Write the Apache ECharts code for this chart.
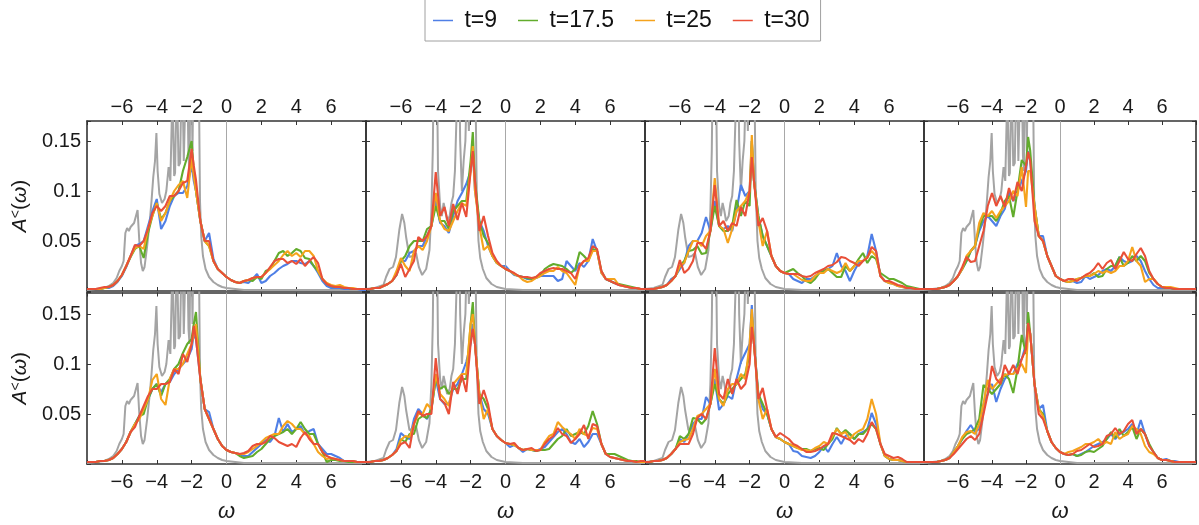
<!DOCTYPE html>
<html><head><meta charset="utf-8">
<script src="https://cdn.jsdelivr.net/npm/echarts/dist/echarts.min.js"></script>
<style>html,body{margin:0;padding:0;background:#fff}#c{width:1199px;height:525px}</style>
</head><body><div id="c"></div><script>
// ---------- data ----------
const seriesNames = ['t=9', 't=17.5', 't=25', 't=30'];
const xTickLabels = [-6, -4, -2, 0, 2, 4, 6];
const yTickLabels = [0.05, 0.1, 0.15];

const omega = [-8,-7.75,-7.5,-7.25,-7,-6.75,-6.5,-6.25,-6,-5.75,
  -5.5,-5.25,-5,-4.75,-4.5,-4.25,-4,-3.75,-3.5,-3.25,
  -3,-2.75,-2.5,-2.25,-2,-1.875,-1.75,-1.5,-1.25,-1,
  -0.75,-0.5,-0.25,0,0.25,0.5,0.75,1,1.25,1.5,
  1.75,2,2.25,2.5,2.75,3,3.25,3.5,3.75,4,
  4.25,4.5,4.75,5,5.25,5.5,5.75,6,6.25,6.5,
  6.75,7,7.25,7.5,7.75,8];

// reference (gray) spectra
const grayA_w = [-8,-7.5,-7,-6.75,-6.5,-6.3,-6.15,-6,-5.9,-5.8,-5.7,-5.6,-5.5,-5.4,-5.3,-5.2,-5.1,-5,-4.9,-4.8,-4.7,-4.55,-4.4,-4.3,-4.2,-4.1,-4.02,-3.95,-3.85,-3.7,-3.55,-3.45,-3.32,-3.22,-3.1,-3,-2.95,-2.85,-2.75,-2.66,-2.55,-2.45,-2.38,-2.28,-2.18,-2.12,-2.05,-1.95,-1.85,-1.75,-1.65,-1.58,-1.52,-1.45,-1.35,-1.2,-1,-0.75,-0.5,-0.25,0,0.5,1,2,8];
const grayA_v = [.001,.002,.003,.005,.008,.013,.02,.025,.03,.058,.063,.06,.064,.062,.068,.07,.081,.05,.028,.02,.024,.045,.07,.09,.114,.13,.158,.12,.097,.088,.092,.1,.124,.11,.2,.115,.118,.22,.125,.128,.24,.13,.13,.25,.135,.12,.27,.14,.3,.35,.3,.2,.09,.055,.035,.022,.014,.009,.006,.004,.003,.002,.001,.001,.001];
const grayB_w = [-8,-7.5,-7,-6.85,-6.65,-6.45,-6.28,-6.09,-5.93,-5.8,-5.7,-5.51,-5.32,-5.13,-4.97,-4.78,-4.55,-4.36,-4.25,-4.17,-4.1,-3.95,-3.87,-3.75,-3.65,-3.55,-3.45,-3.35,-3.2,-3.1,-3,-2.9,-2.8,-2.7,-2.6,-2.5,-2.4,-2.3,-2.2,-2.1,-2,-1.9,-1.8,-1.72,-1.65,-1.55,-1.45,-1.3,-1.1,-0.8,-0.5,0,1,8];
const grayB_v = [.002,.003,.006,.014,.022,.024,.034,.061,.077,.068,.054,.034,.035,.038,.024,.016,.022,.041,.08,.14,.25,.25,.12,.085,.075,.088,.08,.07,.075,.088,.095,.12,.18,.3,.15,.1,.13,.15,.22,.16,.25,.3,.3,.2,.1,.05,.033,.022,.013,.007,.004,.002,.001,.001];

// panel 1 (top, col 1)
const p1_t9 = [.002,.002,.002,.002,.003,.003,.005,.009,.015,.024,
  .035,.045,.047,.05,.065,.08,.092,.062,.07,.085,
  .095,.098,.098,.105,.126,.11,.1,.07,.05,.058,
  .032,.022,.018,.014,.011,.009,.008,.009,.008,.012,
  .017,.008,.01,.015,.018,.022,.025,.027,.03,.03,
  .028,.027,.03,.025,.018,.01,.005,.003,.003,.003,
  .002,.002,.002,.002,.001,.001];
const p1_t17_5 = [.002,.002,.002,.002,.003,.004,.006,.01,.016,.025,
  .034,.042,.045,.033,.058,.075,.088,.072,.078,.09,
  .095,.1,.12,.134,.15,.12,.1,.07,.05,.045,
  .03,.022,.018,.014,.011,.009,.008,.01,.011,.01,
  .014,.012,.02,.022,.03,.038,.04,.035,.038,.042,
  .04,.033,.032,.025,.02,.012,.007,.005,.004,.004,
  .003,.003,.002,.002,.002,.002];
const p1_t25 = [.002,.002,.002,.002,.003,.004,.006,.01,.016,.025,
  .035,.043,.045,.042,.062,.075,.088,.07,.078,.09,
  .1,.106,.11,.093,.133,.115,.1,.07,.05,.045,
  .03,.022,.018,.014,.011,.009,.008,.01,.011,.013,
  .014,.014,.018,.022,.026,.03,.036,.04,.035,.038,
  .034,.04,.04,.035,.02,.012,.008,.006,.005,.006,
  .004,.003,.003,.002,.002,.002];
const p1_t30 = [.002,.002,.002,.003,.004,.004,.006,.01,.016,.025,
  .035,.046,.045,.05,.062,.078,.085,.08,.085,.095,
  .095,.1,.108,.11,.142,.125,.111,.07,.05,.05,
  .03,.022,.018,.014,.011,.009,.008,.01,.011,.013,
  .014,.014,.018,.024,.03,.032,.032,.028,.03,.027,
  .032,.025,.03,.034,.028,.012,.007,.005,.004,.004,
  .003,.003,.002,.002,.002,.002];

// panel 2 (top, col 2)
const p2_t9 = [.002,.002,.003,.003,.005,.007,.01,.016,.03,.03,
  .038,.04,.045,.045,.055,.065,.09,.068,.065,.058,
  .075,.09,.098,.107,.12,.14,.1,.07,.06,.045,
  .035,.028,.025,.025,.02,.016,.015,.014,.012,.012,
  .013,.015,.015,.015,.015,.01,.012,.03,.025,.02,
  .028,.024,.03,.052,.04,.018,.012,.01,.008,.006,
  .005,.004,.003,.003,.002,.002];
const p2_t17_5 = [.002,.002,.003,.003,.005,.007,.01,.016,.03,.035,
  .045,.05,.05,.05,.062,.065,.085,.07,.07,.062,
  .08,.085,.09,.09,.13,.159,.11,.07,.055,.048,
  .035,.028,.025,.022,.02,.017,.015,.014,.013,.012,
  .014,.016,.022,.025,.027,.026,.025,.022,.018,.022,
  .039,.035,.03,.042,.04,.02,.012,.01,.008,.007,
  .006,.005,.004,.003,.002,.002];
const p2_t25 = [.002,.002,.003,.003,.005,.007,.01,.02,.033,.025,
  .02,.04,.045,.041,.05,.065,.098,.07,.062,.06,
  .07,.08,.088,.085,.12,.145,.1,.065,.041,.045,
  .035,.028,.025,.022,.02,.017,.015,.011,.009,.01,
  .013,.015,.018,.02,.02,.024,.02,.018,.012,.006,
  .025,.03,.03,.04,.04,.018,.012,.012,.012,.006,
  .005,.004,.003,.003,.002,.002];
const p2_t30 = [.002,.002,.003,.003,.005,.007,.01,.016,.027,.014,
  .022,.03,.054,.05,.055,.065,.119,.075,.084,.065,
  .087,.071,.088,.074,.12,.14,.11,.06,.075,.055,
  .038,.03,.025,.022,.02,.018,.015,.014,.014,.013,
  .014,.018,.02,.022,.023,.022,.022,.02,.018,.012,
  .025,.03,.033,.045,.042,.02,.012,.01,.008,.006,
  .005,.004,.003,.003,.002,.002];

// panel 3 (top, col 3)
const p3_t9 = [.002,.002,.002,.003,.004,.006,.012,.015,.022,.028,
  .045,.05,.05,.058,.074,.06,.09,.065,.062,.065,
  .06,.08,.106,.095,.1,.15,.11,.075,.055,.045,
  .035,.025,.02,.018,.017,.012,.01,.008,.012,.012,
  .015,.018,.02,.022,.025,.038,.025,.02,.01,.02,
  .028,.03,.035,.057,.04,.015,.01,.008,.007,.005,
  .004,.003,.003,.002,.002,.002];
const p3_t17_5 = [.002,.002,.002,.003,.004,.006,.01,.015,.025,.03,
  .04,.041,.045,.037,.038,.06,.085,.065,.06,.06,
  .065,.091,.075,.09,.085,.15,.11,.075,.055,.045,
  .035,.025,.02,.018,.02,.022,.018,.015,.01,.008,
  .012,.018,.02,.022,.018,.014,.014,.025,.02,.025,
  .032,.038,.028,.035,.032,.018,.015,.012,.012,.01,
  .008,.005,.004,.003,.002,.002];
const p3_t25 = [.002,.002,.002,.003,.004,.006,.01,.015,.025,.028,
  .04,.05,.05,.045,.055,.06,.113,.065,.062,.048,
  .062,.08,.085,.09,.1,.156,.11,.07,.045,.06,
  .035,.025,.02,.018,.017,.017,.014,.011,.01,.01,
  .015,.018,.018,.022,.02,.018,.02,.028,.02,.025,
  .03,.03,.034,.04,.035,.015,.01,.008,.007,.005,
  .004,.003,.003,.002,.002,.002];
const p3_t30 = [.002,.002,.002,.003,.004,.006,.01,.015,.031,.018,
  .022,.03,.048,.048,.042,.06,.106,.065,.07,.06,
  .068,.065,.084,.075,.1,.134,.11,.065,.073,.06,
  .035,.025,.02,.018,.017,.017,.017,.015,.014,.015,
  .018,.02,.022,.025,.026,.029,.034,.033,.03,.028,
  .025,.03,.033,.044,.04,.015,.01,.01,.008,.006,
  .005,.003,.003,.002,.002,.002];

// panel 4 (top, col 4)
const p4_t9 = [.002,.002,.002,.002,.003,.004,.006,.01,.015,.022,
  .03,.04,.045,.06,.07,.075,.07,.065,.075,.082,
  .099,.09,.1,.11,.12,.14,.13,.085,.055,.055,
  .035,.025,.015,.012,.01,.009,.01,.008,.009,.015,
  .012,.014,.016,.02,.022,.02,.025,.034,.03,.028,
  .03,.035,.03,.02,.012,.006,.003,.003,.003,.003,
  .002,.002,.002,.002,.002,.002];
const p4_t17_5 = [.002,.002,.002,.002,.003,.004,.006,.01,.015,.022,
  .03,.04,.045,.063,.075,.075,.075,.07,.078,.09,
  .095,.074,.1,.131,.125,.154,.14,.085,.055,.05,
  .035,.025,.015,.012,.01,.009,.01,.012,.013,.015,
  .015,.018,.014,.015,.022,.025,.025,.034,.025,.028,
  .035,.03,.035,.03,.018,.012,.007,.004,.003,.003,
  .002,.002,.002,.002,.002,.002];
const p4_t25 = [.002,.002,.002,.002,.003,.004,.006,.01,.015,.022,
  .035,.04,.045,.068,.078,.075,.08,.073,.08,.085,
  .09,.1,.095,.124,.084,.12,.12,.085,.055,.05,
  .035,.025,.015,.012,.01,.009,.01,.012,.013,.015,
  .015,.017,.02,.018,.02,.018,.02,.025,.025,.03,
  .044,.03,.025,.009,.012,.012,.007,.004,.004,.004,
  .003,.002,.002,.002,.002,.002];
const p4_t30 = [.002,.002,.002,.002,.003,.004,.006,.01,.015,.024,
  .034,.029,.03,.045,.06,.085,.098,.085,.095,.084,
  .103,.09,.109,.1,.125,.139,.13,.07,.055,.05,
  .035,.025,.015,.012,.01,.012,.012,.01,.013,.016,
  .018,.022,.028,.022,.028,.031,.022,.03,.039,.032,
  .03,.037,.043,.035,.02,.012,.007,.004,.003,.003,
  .002,.002,.002,.002,.002,.002];

// panel 5 (bottom, col 1)
const p5_t9 = [.002,.002,.002,.003,.003,.004,.006,.01,.015,.022,
  .032,.04,.048,.056,.065,.075,.08,.072,.08,.082,
  .09,.095,.1,.105,.115,.13,.125,.085,.055,.052,
  .035,.025,.018,.014,.012,.011,.01,.008,.008,.012,
  .016,.02,.024,.022,.028,.046,.032,.04,.032,.035,
  .038,.03,.033,.035,.02,.015,.01,.01,.008,.006,
  .003,.003,.003,.002,.002,.002];
const p5_t17_5 = [.002,.002,.002,.003,.003,.004,.006,.01,.015,.022,
  .032,.04,.048,.05,.065,.075,.08,.068,.08,.085,
  .095,.1,.111,.12,.125,.14,.152,.085,.055,.045,
  .035,.025,.018,.014,.012,.011,.008,.006,.007,.008,
  .012,.015,.02,.025,.028,.03,.032,.035,.03,.035,
  .042,.035,.03,.03,.02,.012,.002,.004,.004,.003,
  .003,.002,.002,.002,.002,.002];
const p5_t25 = [.002,.002,.002,.003,.003,.004,.006,.01,.015,.022,
  .032,.04,.045,.055,.065,.084,.09,.065,.059,.085,
  .095,.095,.1,.11,.12,.13,.14,.085,.055,.045,
  .035,.025,.018,.014,.012,.011,.01,.01,.012,.015,
  .018,.022,.026,.028,.03,.03,.038,.043,.04,.035,
  .035,.03,.028,.02,.012,.008,.005,.006,.005,.004,
  .003,.003,.003,.002,.002,.002];
const p5_t30 = [.002,.002,.002,.003,.003,.004,.006,.01,.015,.022,
  .032,.037,.048,.058,.068,.075,.075,.08,.08,.082,
  .095,.09,.11,.102,.12,.138,.125,.085,.055,.045,
  .035,.025,.018,.014,.012,.011,.01,.011,.013,.018,
  .02,.02,.022,.028,.026,.022,.02,.018,.02,.017,
  .026,.032,.025,.02,.02,.012,.008,.006,.005,.004,
  .003,.003,.003,.002,.002,.002];

// panel 6 (bottom, col 2)
const p6_t9 = [.002,.002,.003,.003,.004,.006,.009,.015,.031,.027,
  .025,.045,.055,.05,.045,.055,.085,.065,.06,.06,
  .075,.08,.09,.102,.12,.14,.12,.07,.055,.05,
  .035,.028,.024,.021,.017,.019,.016,.012,.015,.014,
  .013,.015,.017,.022,.027,.032,.035,.03,.022,.02,
  .025,.017,.022,.03,.03,.02,.01,.007,.006,.005,
  .004,.003,.003,.002,.002,.002];
const p6_t17_5 = [.002,.002,.003,.003,.004,.006,.009,.013,.025,.022,
  .03,.03,.045,.048,.046,.055,.085,.075,.078,.07,
  .075,.075,.085,.085,.14,.162,.12,.07,.065,.055,
  .035,.028,.024,.021,.02,.019,.016,.014,.015,.014,
  .013,.014,.014,.015,.02,.025,.028,.035,.028,.03,
  .032,.03,.038,.053,.04,.02,.01,.01,.01,.008,
  .006,.004,.003,.003,.002,.002];
const p6_t25 = [.002,.002,.003,.003,.004,.006,.009,.013,.024,.028,
  .027,.04,.05,.05,.06,.055,.09,.07,.065,.058,
  .08,.085,.09,.09,.14,.15,.12,.07,.045,.055,
  .035,.028,.024,.021,.02,.019,.016,.014,.015,.014,
  .014,.014,.022,.028,.03,.042,.037,.033,.03,.025,
  .035,.03,.028,.036,.035,.02,.01,.007,.006,.005,
  .004,.003,.003,.002,.002,.002];
const p6_t30 = [.002,.002,.003,.003,.004,.006,.009,.013,.02,.022,
  .016,.04,.053,.048,.05,.05,.106,.065,.061,.05,
  .082,.07,.089,.072,.12,.135,.12,.06,.074,.06,
  .035,.028,.024,.021,.02,.021,.016,.014,.015,.016,
  .013,.014,.02,.025,.028,.036,.03,.028,.021,.025,
  .03,.039,.025,.04,.038,.02,.01,.007,.006,.005,
  .004,.003,.003,.002,.003,.003];

// panel 7 (bottom, col 3)
const p7_t9 = [.002,.002,.003,.003,.004,.006,.01,.015,.025,.022,
  .03,.04,.045,.045,.067,.06,.085,.054,.06,.068,
  .065,.085,.102,.111,.12,.159,.12,.07,.055,.05,
  .035,.027,.025,.022,.02,.013,.012,.008,.007,.006,
  .008,.012,.018,.012,.02,.027,.02,.028,.03,.025,
  .03,.032,.035,.051,.04,.02,.008,.005,.004,.004,
  .003,.002,.002,.002,.002,.002];
const p7_t17_5 = [.002,.002,.003,.003,.004,.006,.01,.015,.028,.025,
  .03,.046,.045,.04,.045,.06,.08,.065,.06,.07,
  .075,.08,.085,.09,.11,.15,.12,.07,.06,.05,
  .035,.027,.025,.022,.02,.018,.016,.015,.015,.013,
  .015,.016,.014,.02,.025,.036,.03,.034,.03,.025,
  .03,.03,.035,.04,.035,.02,.008,.005,.004,.004,
  .003,.002,.002,.002,.002,.002];
const p7_t25 = [.002,.002,.003,.003,.004,.006,.01,.015,.022,.024,
  .025,.035,.048,.05,.055,.06,.095,.065,.058,.075,
  .08,.08,.09,.085,.12,.155,.12,.065,.045,.055,
  .035,.027,.025,.022,.02,.018,.016,.014,.014,.013,
  .016,.018,.022,.02,.028,.035,.03,.032,.025,.03,
  .033,.035,.045,.065,.05,.02,.008,.005,.004,.004,
  .003,.002,.002,.002,.002,.002];
const p7_t30 = [.002,.002,.003,.003,.004,.006,.01,.015,.02,.02,
  .02,.03,.046,.05,.045,.06,.116,.07,.065,.085,
  .07,.085,.075,.08,.1,.137,.12,.065,.076,.055,
  .035,.027,.031,.028,.025,.02,.018,.015,.012,.012,
  .013,.015,.018,.02,.031,.03,.028,.026,.024,.02,
  .025,.022,.03,.042,.035,.02,.01,.008,.006,.007,
  .005,.002,.002,.002,.002,.002];

// panel 8 (bottom, col 4)
const p8_t9 = [.002,.002,.002,.002,.003,.004,.006,.012,.018,.025,
  .033,.039,.032,.035,.06,.07,.08,.062,.075,.085,
  .09,.09,.1,.105,.12,.14,.13,.08,.055,.059,
  .033,.022,.016,.012,.01,.009,.01,.008,.01,.012,
  .015,.018,.02,.022,.025,.03,.025,.03,.032,.035,
  .04,.03,.044,.03,.018,.012,.006,.004,.005,.003,
  .003,.002,.002,.002,.002,.002];
const p8_t17_5 = [.002,.002,.002,.002,.003,.004,.006,.012,.018,.025,
  .03,.032,.035,.045,.079,.075,.07,.075,.08,.09,
  .085,.071,.095,.129,.11,.152,.13,.08,.055,.05,
  .033,.022,.016,.012,.01,.009,.01,.008,.009,.012,
  .013,.012,.015,.018,.025,.032,.026,.035,.028,.032,
  .037,.025,.035,.03,.02,.012,.006,.004,.004,.003,
  .002,.002,.002,.002,.002,.002];
const p8_t25 = [.002,.002,.002,.002,.003,.004,.006,.012,.018,.027,
  .032,.033,.03,.04,.06,.084,.075,.08,.085,.089,
  .09,.09,.095,.1,.091,.135,.13,.08,.055,.048,
  .033,.022,.016,.012,.01,.012,.013,.015,.017,.02,
  .02,.022,.025,.02,.022,.02,.032,.025,.028,.03,
  .038,.035,.03,.018,.012,.01,.006,.004,.004,.003,
  .002,.002,.002,.002,.002,.002];
const p8_t30 = [.002,.002,.002,.002,.003,.004,.006,.01,.015,.02,
  .025,.028,.024,.03,.05,.07,.098,.085,.08,.099,
  .09,.099,.09,.105,.115,.141,.13,.08,.05,.045,
  .033,.022,.016,.012,.01,.009,.01,.013,.014,.017,
  .02,.017,.018,.02,.028,.03,.036,.03,.033,.04,
  .044,.03,.035,.03,.018,.012,.006,.004,.004,.003,
  .002,.002,.002,.002,.002,.002];

// ---------- layout ----------
const panels = [
  {gray: 'A', lines: [p1_t9, p1_t17_5, p1_t25, p1_t30]},
  {gray: 'B', lines: [p2_t9, p2_t17_5, p2_t25, p2_t30]},
  {gray: 'B', lines: [p3_t9, p3_t17_5, p3_t25, p3_t30]},
  {gray: 'A', lines: [p4_t9, p4_t17_5, p4_t25, p4_t30]},
  {gray: 'A', lines: [p5_t9, p5_t17_5, p5_t25, p5_t30]},
  {gray: 'B', lines: [p6_t9, p6_t17_5, p6_t25, p6_t30]},
  {gray: 'B', lines: [p7_t9, p7_t17_5, p7_t25, p7_t30]},
  {gray: 'A', lines: [p8_t9, p8_t17_5, p8_t25, p8_t30]}
];
panels.forEach((p, g) => p.lines.forEach((l, k) => {
  if (l.length !== omega.length) throw new Error('panel ' + (g + 1) + ' line ' + k + ' has ' + l.length);
}));

const FONT = '"Liberation Sans", Arial, sans-serif';
const COLORS = ['#4f7fe6', '#62ac2c', '#f5a31c', '#e94f38'];
const GRAY = '#a4a4a4';
const FRAME = '#333333';

function fmtX(v) {
  if (!xTickLabels.some(t => Math.abs(t - v) < 1e-9)) return '';
  return v < 0 ? '\u2212' + Math.abs(v) : String(v);
}
function fmtY(v) {
  const t = yTickLabels.find(t => Math.abs(t - v) < 1e-9);
  if (t === undefined) return '';
  return String(t);
}

const grids = [], xAxes = [], yAxes = [], series = [];
panels.forEach((p, g) => {
  const row = Math.floor(g / 4), col = g % 4;
  const top = row === 0 ? 121 : 292.5;
  const h = row === 0 ? 170 : 171.5;
  const ymax = row === 0 ? 0.17 : 0.1715;
  grids.push({left: 87 + 279 * col, top: top, width: 279, height: h});
  const axLine = {show: true, onZero: false, lineStyle: {color: FRAME, width: 1.6}};
  const tick = {show: true, inside: true, length: 4, lineStyle: {color: FRAME, width: 1}};
  const lbl = {fontSize: 20, fontFamily: FONT, color: '#1a1a1a'};
  xAxes.push({gridIndex: g, type: 'value', position: 'bottom', min: -8, max: 8, interval: 2,
    axisLine: axLine, axisTick: tick, splitLine: {show: false},
    axisLabel: Object.assign({show: row === 1, margin: 8, formatter: fmtX}, lbl),
    name: row === 1 ? 'ω' : '', nameLocation: 'middle', nameGap: 37,
    nameTextStyle: {fontSize: 22, fontStyle: 'italic', fontFamily: FONT, color: '#1a1a1a'}});
  xAxes.push({gridIndex: g, type: 'value', position: 'top', min: -8, max: 8, interval: 2,
    axisLine: axLine, axisTick: tick, splitLine: {show: false},
    axisLabel: Object.assign({show: row === 0, margin: 4, formatter: fmtX}, lbl)});
  yAxes.push({gridIndex: g, type: 'value', position: 'left', min: 0, max: ymax, interval: 0.05,
    axisLine: axLine, axisTick: tick, splitLine: {show: false},
    axisLabel: Object.assign({show: col === 0, margin: 6, formatter: fmtY}, lbl),
    name: col === 0 ? '{i|A}{s|<}{n|(}{i|ω}{n|)}' : '', nameLocation: 'middle', nameGap: 56, nameRotate: 90,
    nameTextStyle: {fontFamily: FONT, color: '#1a1a1a', fontSize: 21,
      rich: {i: {fontFamily: FONT, fontSize: 21, fontStyle: 'italic', color: '#1a1a1a'},
             n: {fontFamily: FONT, fontSize: 21, color: '#1a1a1a'},
             s: {fontFamily: FONT, fontSize: 14, color: '#1a1a1a', verticalAlign: 'top', padding: [0, 0, 8, 0]}}}});
  yAxes.push({gridIndex: g, type: 'value', position: 'right', min: 0, max: ymax, interval: 0.05,
    axisLine: axLine, axisTick: tick, splitLine: {show: false}, axisLabel: {show: false}});

  const gw = p.gray === 'A' ? grayA_w : grayB_w;
  const gv = p.gray === 'A' ? grayA_v : grayB_v;
  series.push({type: 'line', name: 'reference', xAxisIndex: 2 * g, yAxisIndex: 2 * g,
    data: gw.map((w, i) => [w, gv[i]]), showSymbol: false, silent: true, clip: true,
    lineStyle: {color: GRAY, width: 2}, itemStyle: {color: GRAY}, z: 2,
    markLine: {silent: true, symbol: 'none', label: {show: false}, animation: false,
      lineStyle: {color: '#a8a8a8', width: 1, type: 'solid'}, data: [{xAxis: 0}]}});
  p.lines.forEach((arr, k) => {
    series.push({type: 'line', name: seriesNames[k], xAxisIndex: 2 * g, yAxisIndex: 2 * g,
      data: omega.map((w, i) => [w, arr[i]]), showSymbol: false, clip: true,
      lineStyle: {color: COLORS[k], width: 2.1}, itemStyle: {color: COLORS[k]}, z: 3 + k});
  });
});

const chart = echarts.init(document.getElementById('c'), null, {renderer: 'canvas'});
chart.setOption({
  animation: false,
  backgroundColor: '#fff',
  legend: {data: seriesNames, left: 425, top: -3, icon: 'rect', itemWidth: 20, itemHeight: 1.5,
    itemGap: 21, padding: [12, 11, 9, 8], borderColor: '#a0a0a0', borderWidth: 1,
    formatter: name => ' ' + name,
    textStyle: {fontFamily: FONT, fontSize: 23, color: '#111'}},
  grid: grids, xAxis: xAxes, yAxis: yAxes, series: series
});
</script></body></html>
